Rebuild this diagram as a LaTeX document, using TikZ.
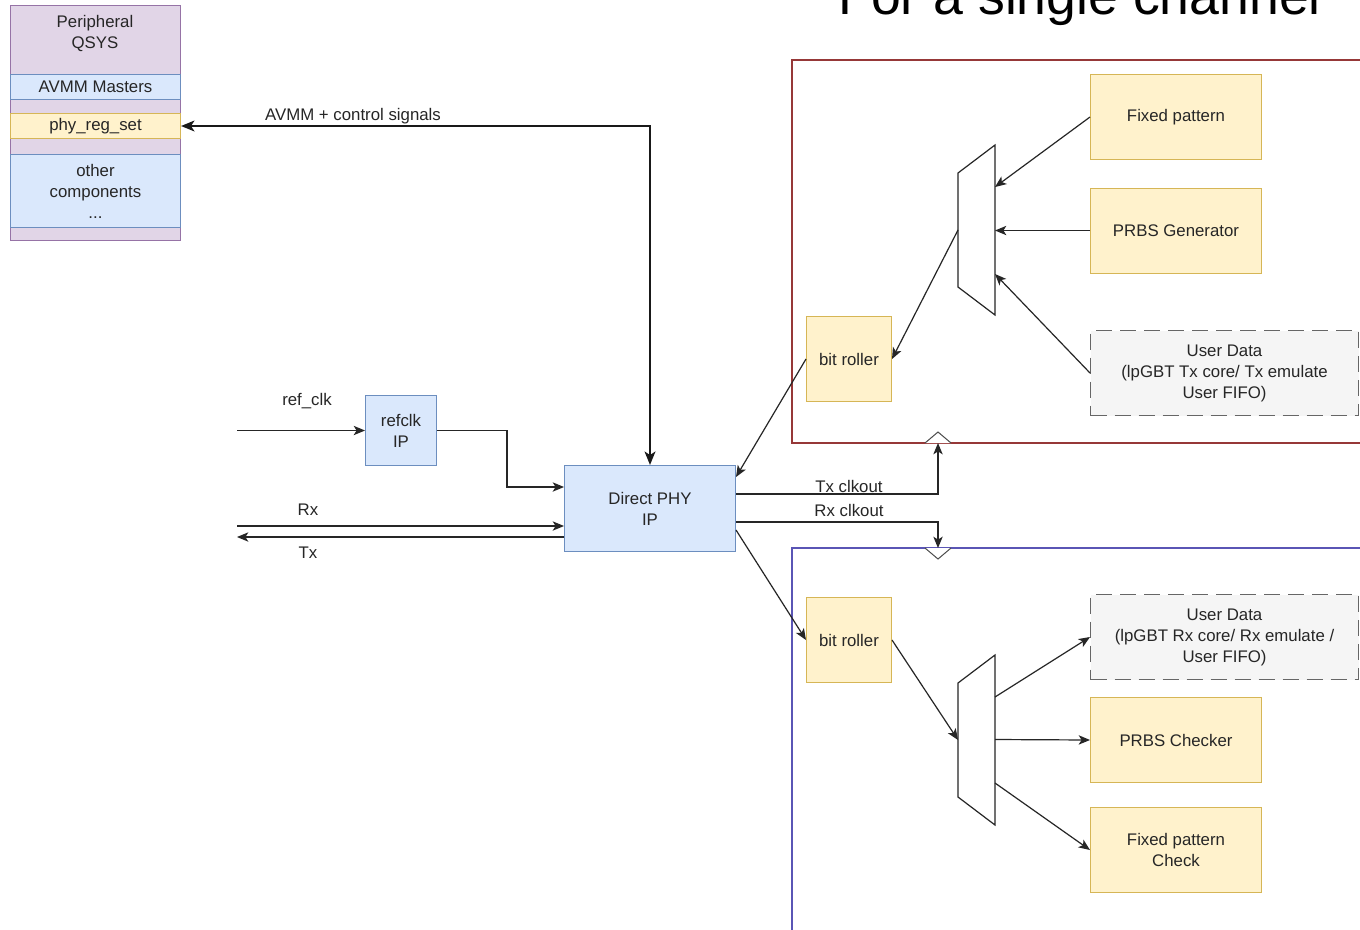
\documentclass[tikz,border=0pt]{standalone}
\usepackage{fontspec}
\setmainfont{Liberation Sans}
\usetikzlibrary{arrows.meta,calc}
\definecolor{purpF}{HTML}{E1D5E7}
\definecolor{purpS}{HTML}{9673A6}
\definecolor{blueF}{HTML}{DAE8FC}
\definecolor{blueS}{HTML}{6C8EBF}
\definecolor{yelF}{HTML}{FFF2CC}
\definecolor{yelS}{HTML}{D6B656}
\definecolor{grayF}{HTML}{F5F5F5}
\definecolor{grayS}{HTML}{666666}
\definecolor{panelR}{HTML}{963838}
\definecolor{panelB}{HTML}{5A55B5}
\begin{document}
\begin{tikzpicture}[x=0.75pt,y=-0.75pt,
  every node/.style={font=\fontsize{12.6}{15.75}\selectfont, inner sep=0pt, align=center, text=black!85},
  box/.style={draw, line width=0.75pt, anchor=north west},
  bluebox/.style={box, fill=blueF, draw=blueS},
  yelbox/.style={box, fill=yelF, draw=yelS},
  bigyel/.style={yelbox, minimum width=128.25pt, minimum height=63.75pt},
  userbox/.style={box, fill=grayF, draw=grayS, dash pattern=on 12pt off 6pt, minimum width=201pt, minimum height=63.75pt},
  rollbox/.style={yelbox, minimum width=63.75pt, minimum height=63.75pt},
  arr/.style={draw=black!85, line width=0.9pt, -{Stealth[length=8.5pt,width=7pt,inset=2.2pt]}},
  lbl/.style={text=black!85},
  muxs/.style={draw=black!85, line width=0.9pt, fill=white}
]
\useasboundingbox (0,0) rectangle (1360,929);
\fill[white] (0,0) rectangle (1360,929);

% title (partly cut at the top, as in the reference)
\node[anchor=base west, font=\fontsize{40.2}{48}\selectfont, text=black] (title) at (838,14) {For a single channel};

% left stack
\node[box, fill=purpF, draw=purpS, minimum width=127.5pt, minimum height=176.25pt] (qsys) at (10,5) {};
\node[lbl] (qsyst) at (95,33) {Peripheral\\QSYS};
\node[bluebox, minimum width=127.5pt, minimum height=18.75pt] (avmm) at (10,74) {AVMM Masters};
\node[yelbox, minimum width=127.5pt, minimum height=18.75pt] (prs) at (10,113) {phy\_reg\_set};
\node[bluebox, minimum width=127.5pt, minimum height=54.75pt] (other) at (10,154) {other\\components\\...};

% refclk and PHY
\node[bluebox, minimum width=53.25pt, minimum height=52.5pt] (refclk) at (365,395) {refclk\\IP};
\node[bluebox, minimum width=128.25pt, minimum height=64.5pt] (phy) at (564,465) {Direct PHY\\IP};

\coordinate (refin) at (237,430.5);
\coordinate (rxin) at (237,526);
\coordinate (txout) at (237,537);

% panels
\draw[draw=panelR, line width=0.9pt, fill=white] (792,60) rectangle (1420,443);
\draw[draw=panelB, line width=0.9pt, fill=white] (792,548) rectangle (1420,1000);
\coordinate (pt) at (938,443);
\coordinate (pb) at (938,548);
\draw[draw=black!70, line width=0.75pt, fill=white] (925,443) -- (938,432) -- (951,443);
\draw[draw=black!70, line width=0.75pt, fill=white] (925,548) -- (938,559) -- (951,548);

% top panel
\node[bigyel] (fp1) at (1090,74) {Fixed pattern};
\node[bigyel] (prbsg) at (1090,188) {PRBS Generator};
\node[userbox] (ud1) at (1090,330) {User Data\\(lpGBT Tx core/ Tx emulate\\User FIFO)};
\node[rollbox] (br1) at (806,316) {bit roller};
\draw[muxs] (958,173) coordinate (m1tl) -- (995,145) coordinate (m1tr) -- (995,315) coordinate (m1br) -- (958,287) coordinate (m1bl) -- cycle;
\coordinate (m1i1) at (995,187);
\coordinate (m1i2) at (995,230.5);
\coordinate (m1i3) at (995,274);
\coordinate (m1o) at (958,230);

% bottom panel
\node[rollbox] (br2) at (806,597) {bit roller};
\node[userbox] (ud2) at (1090,594) {User Data\\(lpGBT Rx core/ Rx emulate /\\User FIFO)};
\node[bigyel] (pchk) at (1090,697) {PRBS Checker};
\node[bigyel] (fpc) at (1090,807) {Fixed pattern\\Check};
\draw[muxs] (958,683) coordinate (m2tl) -- (995,655) coordinate (m2tr) -- (995,825) coordinate (m2br) -- (958,797) coordinate (m2bl) -- cycle;
\coordinate (m2i) at (958,740);
\coordinate (m2o1) at (995,697);
\coordinate (m2o2) at (995,739.5);
\coordinate (m2o3) at (995,783);

% connectors
\draw[line width=1.9pt, draw=black!90, {Stealth[length=10pt,width=8pt,inset=2.5pt]}-{Stealth[length=10pt,width=8pt,inset=2.5pt]}] (prs.east) -| (phy.north);
\node[lbl] (avmml) at (353,116) {AVMM + control signals};

\draw[arr] (refin) -- (refclk.west);
\node[lbl] (refl) at (307,401) {ref\_clk};
\draw[arr] (refclk.east) -| (507,487) -- (phy.west |- 0,487);
\draw[arr] (rxin) -- (phy.west |- rxin);
\node[lbl] (rxl) at (308,510) {Rx};
\draw[arr] (phy.west |- txout) -- (txout);
\node[lbl] (txl) at (308,553) {Tx};

\draw[arr] (phy.east |- 0,494) -| (pt);
\node[lbl] (txcl) at (849,486) {Tx clkout};
\draw[arr] (phy.east |- 0,522) -| (pb);
\node[lbl] (rxcl) at (849,510) {Rx clkout};

\draw[arr] (fp1.west) -- (m1i1);
\draw[arr] (prbsg.west |- m1i2) -- (m1i2);
\draw[arr] (ud1.west) -- (m1i3);
\draw[arr] (m1o) -- (br1.east);
\draw[arr] (br1.west) -- (phy.east |- 0,477);

\draw[arr] (phy.east |- 0,530) -- (br2.west);
\draw[arr] (br2.east) -- (m2i);
\draw[arr] (m2o1) -- (ud2.west);
\draw[arr] (m2o2) -- (pchk.west);
\draw[arr] (m2o3) -- (fpc.west);
\end{tikzpicture}
\end{document}
